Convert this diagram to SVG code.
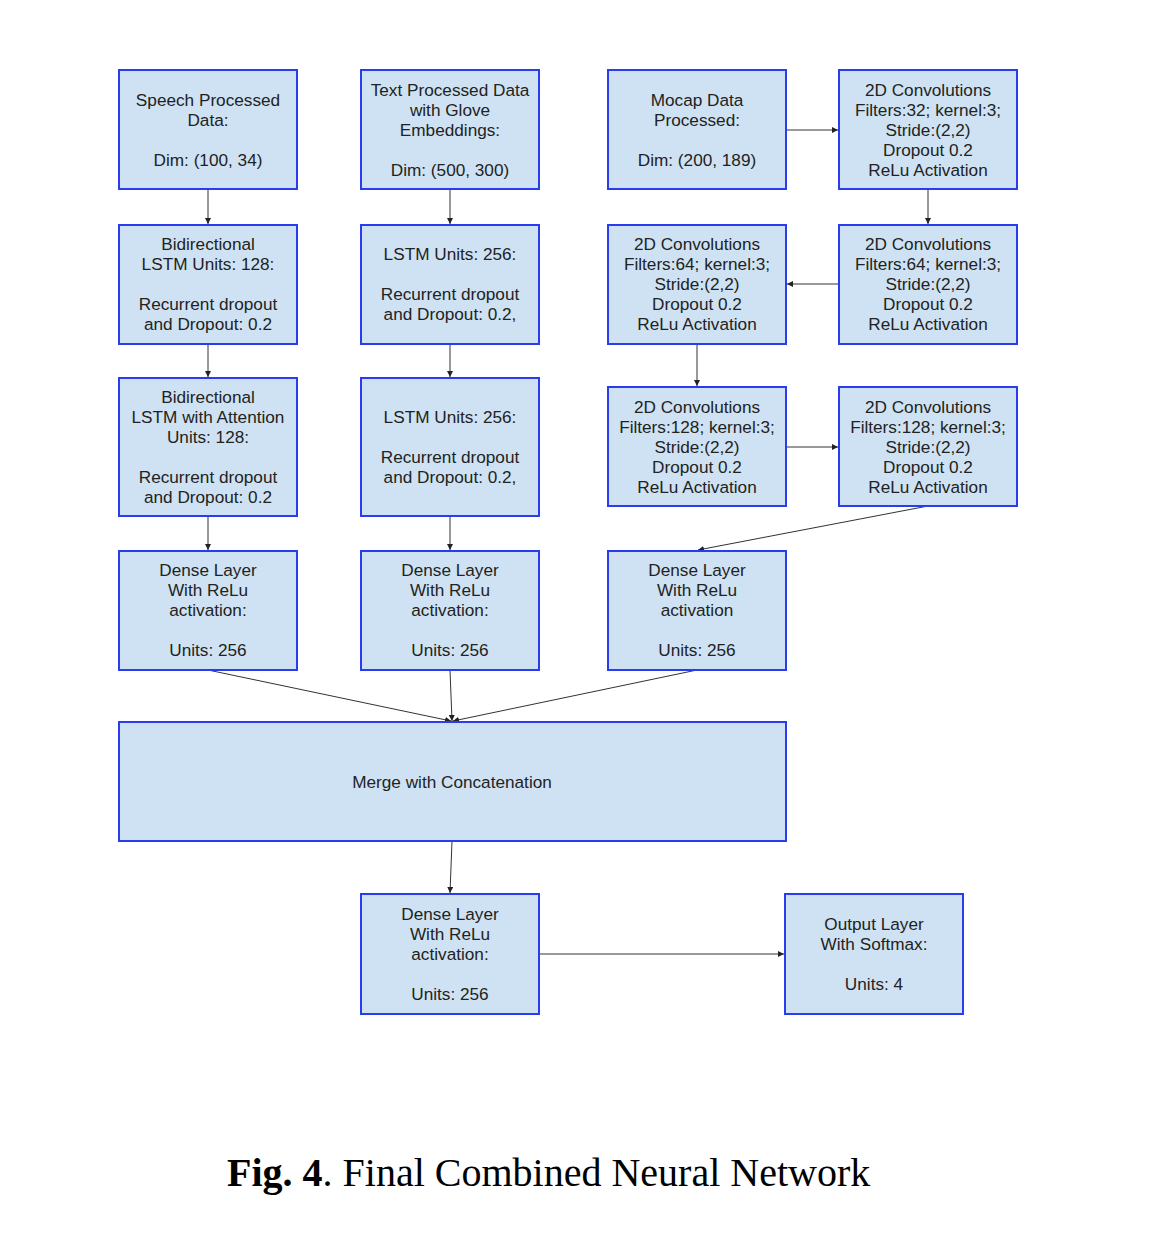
<svg xmlns="http://www.w3.org/2000/svg" width="1162" height="1242" viewBox="0 0 1162 1242">
<style>
.n rect{fill:#cfe2f3;stroke:#2a3cf0;stroke-width:2}
.n text{font-family:"Liberation Sans",Arial,sans-serif;font-size:17.2px;fill:#222;text-anchor:middle}
.c line{stroke:#333;stroke-width:1;marker-end:url(#ah)}
.cap{font-family:"Liberation Serif","Times New Roman",serif;font-size:40px;fill:#000}
</style>
<defs>
<marker id="ah" viewBox="0 0 6 6" refX="6" refY="3" markerWidth="6" markerHeight="6" markerUnits="userSpaceOnUse" orient="auto">
<path d="M0,0 L6,3 L0,6 z" fill="#222"/>
</marker>
</defs>
<rect width="1162" height="1242" fill="#fff"/>
<g class="c" id="connectors">
<line x1="208" y1="189" x2="208" y2="224"/>
<line x1="450" y1="189" x2="450" y2="224"/>
<line x1="786" y1="130" x2="838" y2="130"/>
<line x1="928" y1="189" x2="928" y2="224"/>
<line x1="839" y1="284" x2="787" y2="284"/>
<line x1="697" y1="344" x2="697" y2="386"/>
<line x1="208" y1="344" x2="208" y2="377"/>
<line x1="450" y1="344" x2="450" y2="377"/>
<line x1="786" y1="447" x2="838" y2="447"/>
<line x1="208" y1="516" x2="208" y2="550"/>
<line x1="450" y1="516" x2="450" y2="550"/>
<line x1="928" y1="506" x2="698" y2="550"/>
<line x1="208" y1="670" x2="451" y2="721"/>
<line x1="450" y1="670" x2="452" y2="721"/>
<line x1="697" y1="670" x2="453" y2="721"/>
<line x1="452" y1="841" x2="450" y2="893"/>
<line x1="539" y1="954" x2="784" y2="954"/>
</g>
<g class="n" id="speech"><rect x="119" y="70" width="178" height="119"/>
<text x="208" y="106">Speech Processed</text><text x="208" y="126">Data:</text><text x="208" y="166">Dim: (100, 34)</text></g>
<g class="n" id="textdata"><rect x="361" y="70" width="178" height="119"/>
<text x="450" y="96">Text Processed Data</text><text x="450" y="116">with Glove</text><text x="450" y="136">Embeddings:</text><text x="450" y="176">Dim: (500, 300)</text></g>
<g class="n" id="mocap"><rect x="608" y="70" width="178" height="119"/>
<text x="697" y="106">Mocap Data</text><text x="697" y="126">Processed:</text><text x="697" y="166">Dim: (200, 189)</text></g>
<g class="n" id="conv32"><rect x="839" y="70" width="178" height="119"/>
<text x="928" y="96">2D Convolutions</text><text x="928" y="116">Filters:32; kernel:3;</text><text x="928" y="136">Stride:(2,2)</text><text x="928" y="156">Dropout 0.2</text><text x="928" y="176">ReLu Activation</text></g>
<g class="n" id="bilstm"><rect x="119" y="225" width="178" height="119"/>
<text x="208" y="250">Bidirectional</text><text x="208" y="270">LSTM Units: 128:</text><text x="208" y="310">Recurrent dropout</text><text x="208" y="330">and Dropout: 0.2</text></g>
<g class="n" id="lstm1"><rect x="361" y="225" width="178" height="119"/>
<text x="450" y="260">LSTM Units: 256:</text><text x="450" y="300">Recurrent dropout</text><text x="450" y="320">and Dropout: 0.2,</text></g>
<g class="n" id="conv64b"><rect x="608" y="225" width="178" height="119"/>
<text x="697" y="250">2D Convolutions</text><text x="697" y="270">Filters:64; kernel:3;</text><text x="697" y="290">Stride:(2,2)</text><text x="697" y="310">Dropout 0.2</text><text x="697" y="330">ReLu Activation</text></g>
<g class="n" id="conv64a"><rect x="839" y="225" width="178" height="119"/>
<text x="928" y="250">2D Convolutions</text><text x="928" y="270">Filters:64; kernel:3;</text><text x="928" y="290">Stride:(2,2)</text><text x="928" y="310">Dropout 0.2</text><text x="928" y="330">ReLu Activation</text></g>
<g class="n" id="bilstmatt"><rect x="119" y="378" width="178" height="138"/>
<text x="208" y="403">Bidirectional</text><text x="208" y="423">LSTM with Attention</text><text x="208" y="443">Units: 128:</text><text x="208" y="483">Recurrent dropout</text><text x="208" y="503">and Dropout: 0.2</text></g>
<g class="n" id="lstm2"><rect x="361" y="378" width="178" height="138"/>
<text x="450" y="423">LSTM Units: 256:</text><text x="450" y="463">Recurrent dropout</text><text x="450" y="483">and Dropout: 0.2,</text></g>
<g class="n" id="conv128a"><rect x="608" y="387" width="178" height="119"/>
<text x="697" y="413">2D Convolutions</text><text x="697" y="433">Filters:128; kernel:3;</text><text x="697" y="453">Stride:(2,2)</text><text x="697" y="473">Dropout 0.2</text><text x="697" y="493">ReLu Activation</text></g>
<g class="n" id="conv128b"><rect x="839" y="387" width="178" height="119"/>
<text x="928" y="413">2D Convolutions</text><text x="928" y="433">Filters:128; kernel:3;</text><text x="928" y="453">Stride:(2,2)</text><text x="928" y="473">Dropout 0.2</text><text x="928" y="493">ReLu Activation</text></g>
<g class="n" id="dense1"><rect x="119" y="551" width="178" height="119"/>
<text x="208" y="576">Dense Layer</text><text x="208" y="596">With ReLu</text><text x="208" y="616">activation:</text><text x="208" y="656">Units: 256</text></g>
<g class="n" id="dense2"><rect x="361" y="551" width="178" height="119"/>
<text x="450" y="576">Dense Layer</text><text x="450" y="596">With ReLu</text><text x="450" y="616">activation:</text><text x="450" y="656">Units: 256</text></g>
<g class="n" id="dense3"><rect x="608" y="551" width="178" height="119"/>
<text x="697" y="576">Dense Layer</text><text x="697" y="596">With ReLu</text><text x="697" y="616">activation</text><text x="697" y="656">Units: 256</text></g>
<g class="n" id="merge"><rect x="119" y="722" width="667" height="119"/>
<text x="452" y="788">Merge with Concatenation</text></g>
<g class="n" id="dense4"><rect x="361" y="894" width="178" height="120"/>
<text x="450" y="920">Dense Layer</text><text x="450" y="940">With ReLu</text><text x="450" y="960">activation:</text><text x="450" y="1000">Units: 256</text></g>
<g class="n" id="output"><rect x="785" y="894" width="178" height="120"/>
<text x="874" y="930">Output Layer</text><text x="874" y="950">With Softmax:</text><text x="874" y="990">Units: 4</text></g>
<text class="cap" x="227" y="1186"><tspan font-weight="bold">Fig. 4</tspan>. Final Combined Neural Network</text>
</svg>
